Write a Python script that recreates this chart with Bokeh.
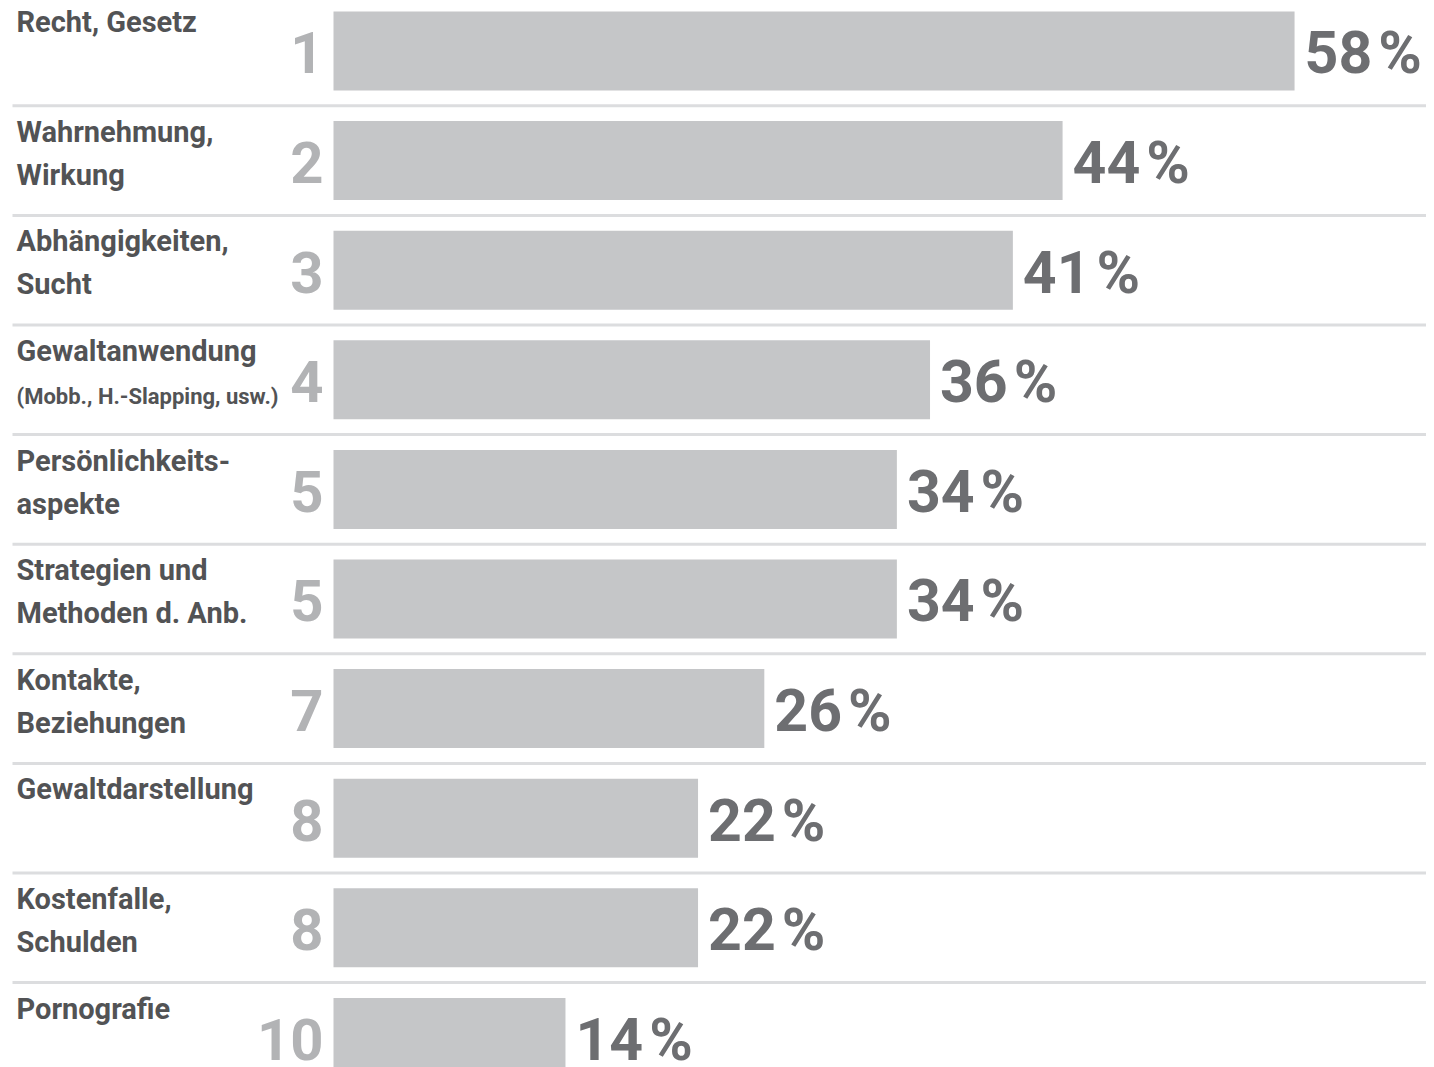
from bokeh.plotting import figure
from bokeh.models import Range1d, ColumnDataSource
from bokeh.core.properties import value
from bokeh.embed import file_html
from bokeh.resources import INLINE

categories = ["Recht, Gesetz", "Wahrnehmung,\nWirkung", "Abhängigkeiten,\nSucht",
              "Gewaltanwendung", "Persönlichkeits-\naspekte", "Strategien und\nMethoden d. Anb.",
              "Kontakte,\nBeziehungen", "Gewaltdarstellung", "Kostenfalle,\nSchulden", "Pornografie"]
notes = ["", "", "", "(Mobb., H.-Slapping, usw.)", "", "", "", "", "", ""]
ranks = ["1", "2", "3", "4", "5", "5", "7", "8", "8", "10"]
values = [58, 44, 41, 36, 34, 34, 26, 22, 22, 14]

W, H = 1426, 1067
PX_X = 16.57      # px per percent
X0 = 333          # bar origin in figure px
PX_Y = 109.6      # px per row
Y0 = 50.5         # first row center in figure px

x_range = Range1d(-X0 / PX_X, (W - X0) / PX_X)
y_range = Range1d((H - Y0) / PX_Y, -Y0 / PX_Y)

p = figure(width=W, height=H, x_range=x_range, y_range=y_range,
           output_backend="svg", toolbar_location=None, min_border=0,
           outline_line_color=None, background_fill_color="white")
p.axis.visible = False
p.grid.visible = False

n = len(values)
rows = list(range(n))
dx = lambda px: px / PX_X
dy = lambda px: px / PX_Y

FONT = value("Roboto")
BIG = 58
SHIFT = 0.39  # baseline correction (em)

# separators
sep_y = [i + 0.5 for i in range(n - 1)]
p.segment(x0=[dx(12 - X0)] * len(sep_y), x1=[dx(1434 - X0)] * len(sep_y), y0=sep_y, y1=sep_y,
          line_color="#dcdddf", line_width=3)

# bars
src = ColumnDataSource(dict(y=rows, v=values, r=ranks,
                            pct=[f"{v}\u200a%" for v in values],
                            ty=[i + dy(24.5 - SHIFT * BIG) for i in rows],
                            px=[v + dx(10) for v in values]))
p.hbar(y="y", left=0, right="v", height=dy(79), source=src, fill_color="#c5c6c8", line_color=None)

# rank numbers
p.text(x=dx(-10), y="ty", text="r", source=src, text_align="right", text_baseline="alphabetic",
       text_font=FONT, text_font_style="bold", text_font_size=f"{BIG}px", text_color="#b2b3b5")

# percentages
p.text(x="px", y="ty", text="pct", source=src, text_align="left", text_baseline="alphabetic",
       text_font=FONT, text_font_style="bold", text_font_size=f"{BIG + 1}px", text_color="#6d6e71")

# category labels
LS = 29
lx, ly, lt = [], [], []
for i, c in enumerate(categories):
    for j, line in enumerate(c.split("\n")):
        lx.append(dx(16 - X0))
        ly.append(i + dy(-17.5 + 43 * j - SHIFT * LS))
        lt.append(line)
p.text(x=lx, y=ly, text=lt, text_align="left", text_baseline="alphabetic",
       text_font=FONT, text_font_style="bold", text_font_size=f"{LS}px", text_color="#525355")

NS = 22
nx, ny, nt = [], [], []
for i, s in enumerate(notes):
    if s:
        nx.append(dx(16 - X0))
        ny.append(i + dy(25.5 - SHIFT * NS))
        nt.append(s)
p.text(x=nx, y=ny, text=nt, text_align="left", text_baseline="alphabetic",
       text_font=FONT, text_font_style="bold", text_font_size=f"{NS}px", text_color="#525355")

open("out.html", "w").write(file_html(p, INLINE))
